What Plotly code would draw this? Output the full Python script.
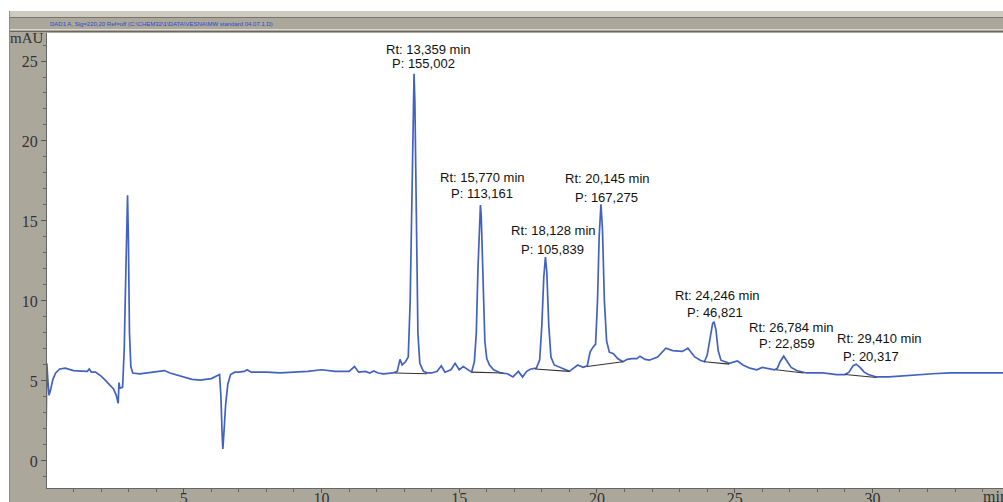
import plotly.graph_objects as go

# ---------------- data ----------------
rt_min = [
    0.00, 0.03, 0.07, 0.11, 0.16, 0.25, 0.35, 0.50, 0.70, 0.85, 1.00, 1.30, 1.50, 1.57, 1.65, 1.80,
    2.00, 2.15, 2.30, 2.45, 2.55, 2.62, 2.65, 2.68, 2.78, 2.84, 2.90, 2.96, 2.99, 3.03, 3.08, 3.15,
    3.40, 3.80, 4.00, 4.30, 4.50, 4.80, 5.00, 5.30, 5.60, 6.00, 6.30, 6.35, 6.39, 6.42, 6.46, 6.52,
    6.60, 6.70, 6.85, 7.00, 7.20, 7.30, 7.45, 8.00, 8.50, 9.00, 9.50, 10.00, 10.50, 11.00, 11.20,
    11.35, 11.60, 11.75, 11.90, 12.05, 12.25, 12.60, 12.75, 12.85, 12.93, 13.05, 13.15, 13.22,
    13.28, 13.33, 13.36, 13.39, 13.44, 13.50, 13.57, 13.70, 13.85, 14.00, 14.20, 14.35, 14.48,
    14.70, 14.85, 15.00, 15.15, 15.30, 15.45, 15.55, 15.62, 15.68, 15.74, 15.77, 15.80, 15.86,
    15.93, 16.00, 16.10, 16.25, 16.50, 16.75, 16.95, 17.15, 17.30, 17.45, 17.60, 17.80, 17.92,
    18.00, 18.07, 18.13, 18.18, 18.25, 18.33, 18.45, 18.70, 19.00, 19.30, 19.50, 19.65, 19.75,
    19.85, 19.95, 20.02, 20.08, 20.145, 20.20, 20.27, 20.35, 20.45, 20.60, 20.75, 20.94, 21.10,
    21.27, 21.45, 21.56, 21.75, 21.90, 22.20, 22.50, 22.75, 23.10, 23.30, 23.55, 23.75, 23.90,
    24.00, 24.10, 24.20, 24.25, 24.32, 24.40, 24.50, 24.65, 24.80, 25.10, 25.30, 25.55, 25.80,
    26.00, 26.20, 26.45, 26.55, 26.65, 26.78, 26.90, 27.05, 27.25, 27.60, 28.20, 28.70, 29.00,
    29.15, 29.30, 29.41, 29.55, 29.70, 29.85, 30.15, 30.60, 31.00, 31.60, 32.20, 32.80, 33.50, 34.75,
]
signal_mau = [
    1.2, 6.1, 5.0, 4.1, 4.4, 5.1, 5.5, 5.75, 5.8, 5.7, 5.65, 5.62, 5.6, 5.75, 5.55, 5.55,
    5.3, 5.05, 4.8, 4.5, 4.1, 3.6, 4.9, 4.55, 4.6, 7.0, 12.0, 16.6, 14.0, 8.0, 5.9, 5.5,
    5.45, 5.55, 5.6, 5.65, 5.5, 5.35, 5.25, 5.1, 5.05, 5.15, 5.4, 4.0, 1.8, 0.75, 1.8, 3.5,
    4.8, 5.4, 5.55, 5.55, 5.6, 5.7, 5.55, 5.55, 5.5, 5.55, 5.6, 5.7, 5.6, 5.6, 5.9,
    5.55, 5.6, 5.5, 5.62, 5.5, 5.45, 5.5, 5.6, 6.35, 6.0, 6.2, 6.5, 10.0,
    17.0, 23.2, 24.2, 22.5, 14.0, 8.0, 6.1, 5.6, 5.5, 5.5, 5.6, 5.95, 5.55,
    5.7, 6.1, 5.7, 5.9, 5.7, 5.55, 6.2, 8.0, 12.0, 15.5, 16.0, 15.3, 11.0,
    7.5, 6.4, 6.0, 5.7, 5.5, 5.45, 5.25, 5.6, 5.25, 5.6, 5.75, 5.8, 6.3,
    8.5, 11.5, 12.75, 11.8, 8.5, 6.5, 6.0, 5.8, 5.6, 6.0, 5.85, 5.95, 6.8,
    7.1, 7.3, 10.0, 14.0, 16.05, 14.5, 10.0, 7.5, 6.8, 6.7, 6.4, 6.2, 6.35,
    6.4, 6.4, 6.55, 6.35, 6.3, 6.5, 7.05, 6.9, 6.85, 7.05, 6.5, 6.3, 6.2,
    6.6, 7.6, 8.6, 8.7, 8.2, 6.9, 6.3, 6.2, 6.1, 6.25, 6.0, 5.8, 5.7,
    5.85, 5.8, 5.7, 5.8, 6.2, 6.55, 6.25, 5.85, 5.65, 5.5, 5.5, 5.4, 5.4,
    5.55, 5.95, 6.05, 5.85, 5.55, 5.4, 5.25, 5.25, 5.3, 5.4, 5.45, 5.5, 5.5, 5.5,
]

# integration baselines: start/end time and value for each peak
base_t0 = [12.65, 15.46, 17.75, 19.64, 23.90, 26.50, 29.00]
base_v0 = [5.50, 5.55, 5.75, 5.90, 6.20, 5.70, 5.40]
base_t1 = [13.83, 16.60, 19.00, 20.94, 24.80, 27.50, 30.15]
base_v1 = [5.45, 5.50, 5.60, 6.20, 6.05, 5.50, 5.22]

peak_rt = ["13,359", "15,770", "18,128", "20,145", "24,246", "26,784", "29,410"]
peak_area = ["155,002", "113,161", "105,839", "167,275", "46,821", "22,859", "20,317"]

y_ticks = [0, 5, 10, 15, 20, 25]
x_ticks = [5, 10, 15, 20, 25, 30]

# ---------------- layout helpers (pixel -> paper) ----------------
W, H = 1003, 502
ML, MR, MT, MB = 47, 0, 33, 14
PW, PH = W - ML - MR, H - MT - MB


def px(x):
    return (x - ML) / PW


def py(y):
    return (H - MB - y) / PH


# label positions (layout, in data units): line1 (x, y), line2 (x, y)
lab1_x = [13.87, 15.86, 18.44, 20.40, 24.36, 27.08, 30.24]
lab1_y = [25.69, 17.72, 14.40, 17.63, 10.34, 8.37, 7.66]
lab2_x = [13.72, 15.83, 18.40, 20.33, 24.28, 26.90, 29.95]
lab2_y = [24.84, 16.72, 13.19, 16.47, 9.28, 7.34, 6.53]

BG = "#aba79b"
BLUE = "#4262c2"
LBL_FONT = dict(family="Liberation Sans, Arial", size=13, color="#111111")
SERIF = dict(family="Liberation Serif, Times New Roman, serif", size=16, color="#333333")

fig = go.Figure()
fig.add_trace(go.Scatter(x=rt_min, y=signal_mau, mode="lines",
                         line=dict(color=BLUE, width=1.7), hoverinfo="skip", showlegend=False))

bx, by = [], []
for a, b, c, d in zip(base_t0, base_v0, base_t1, base_v1):
    bx += [a, c, None]
    by += [b, d, None]
fig.add_trace(go.Scatter(x=bx, y=by, mode="lines", line=dict(color="#333333", width=1.1),
                         hoverinfo="skip", showlegend=False))

annotations = []
for i in range(len(peak_rt)):
    annotations.append(dict(x=lab1_x[i], y=lab1_y[i], xref="x", yref="y", showarrow=False,
                            text=f"Rt: {peak_rt[i]} min", font=LBL_FONT,
                            xanchor="center", yanchor="middle"))
    annotations.append(dict(x=lab2_x[i], y=lab2_y[i], xref="x", yref="y", showarrow=False,
                            text=f"P: {peak_area[i]}", font=LBL_FONT,
                            xanchor="center", yanchor="middle"))

annotations += [
    dict(x=px(48), y=py(24), xref="paper", yref="paper", showarrow=False, xanchor="left",
         yanchor="middle",
         text="DAD1 A, Sig=220,20 Ref=off (C:\\CHEM32\\1\\DATA\\VESNA\\MW standard 04.07.1.D)",
         font=dict(family="Liberation Sans, Arial", size=6, color="#2a4bd0")),
    dict(x=px(27), y=py(38), xref="paper", yref="paper", showarrow=False, xanchor="center",
         yanchor="middle", text="mAU", font=dict(family=SERIF["family"], size=15, color="#333333")),
    dict(x=px(995), y=py(497), xref="paper", yref="paper", showarrow=False, xanchor="center",
         yanchor="middle", text="min", font=SERIF),
]


def rect(x0, y0, x1, y1, color):
    return dict(type="rect", xref="paper", yref="paper", x0=px(x0), x1=px(x1), y0=py(y1), y1=py(y0),
                fillcolor=color, line=dict(width=0), layer="above")


def hline(yv, color, x0=9, x1=1003):
    return dict(type="line", xref="paper", yref="paper", x0=px(x0), x1=px(x1), y0=py(yv), y1=py(yv),
                line=dict(color=color, width=1), layer="above")


shapes = [
    rect(0, 0, 1003, 11, "white"),
    rect(0, 0, 9, 502, "white"),
    rect(9, 11, 1003, 17, "#cbc9c0"),
    hline(17.5, "#77756c"),
    hline(29.5, "#dcdad1"),
    hline(31.5, "#6a685f"),
    dict(type="line", xref="paper", yref="paper", x0=px(9.5), x1=px(9.5), y0=py(11), y1=py(502),
         line=dict(color="#8e8b81", width=1), layer="above"),
]

fig.update_layout(
    width=W, height=H,
    margin=dict(l=ML, r=MR, t=MT, b=MB, pad=0, autoexpand=False),
    paper_bgcolor=BG, plot_bgcolor="white",
    showlegend=False,
    annotations=annotations,
    shapes=shapes,
    xaxis=dict(range=[0.036, 34.74], tickmode="array", tickvals=x_ticks,
               ticktext=[str(v) for v in x_ticks], automargin=False,
               ticks="outside", ticklen=4, tickcolor="#555555", tickwidth=1,
               ticklabelstandoff=-8,
               minor=dict(dtick=1, tick0=0, ticks="outside", ticklen=3, tickcolor="#666666"),
               showgrid=False, zeroline=False, showline=True, linecolor="#666666", linewidth=1,
               tickfont=SERIF, fixedrange=True),
    yaxis=dict(range=[-1.69, 26.75], tickmode="array", tickvals=y_ticks,
               ticktext=[str(v) for v in y_ticks], automargin=False,
               ticks="outside", ticklen=5, tickcolor="#555555", tickwidth=1,
               minor=dict(dtick=1, tick0=0, ticks="outside", ticklen=3, tickcolor="#666666"),
               showgrid=False, zeroline=False, showline=True, linecolor="#666666", linewidth=1,
               tickfont=SERIF, fixedrange=True),
)

fig.write_html("out.html", config={"displayModeBar": False},
               post_script="document.body.style.margin='0px';document.body.style.overflow='hidden';")
